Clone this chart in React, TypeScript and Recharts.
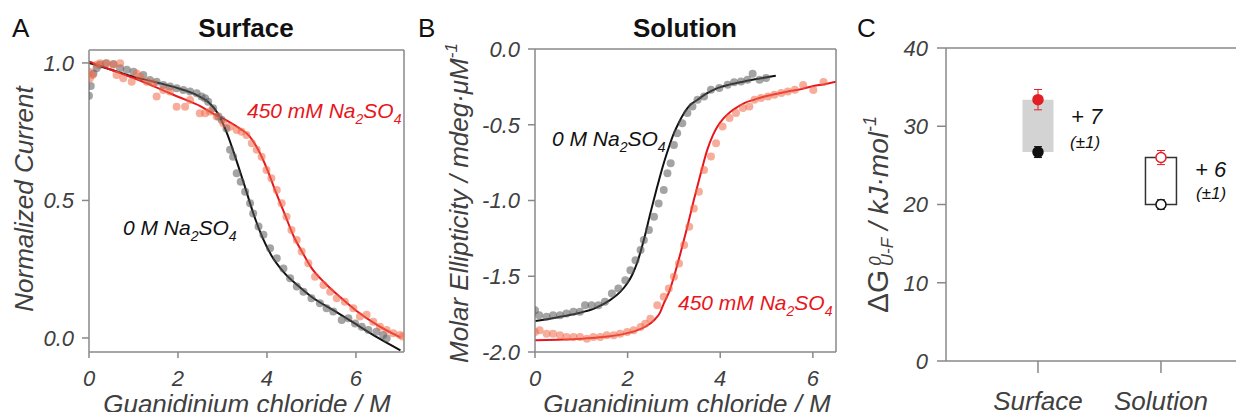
import React from "react";
import {
  ComposedChart,
  Scatter,
  Line,
  XAxis,
  YAxis,
  ErrorBar,
  ReferenceArea,
} from "recharts";

const FONT = "'Liberation Sans', Arial, Helvetica, sans-serif";
const AXIS = "#888";
const TEXT = "#404040";
const RED = "#e8161c";

// ---- panel A: surface (normalized current vs GdmCl) ----
const surfDots0: [number, number][] = [
  [0.0, 0.881], [0.04, 0.916], [0.1, 0.962], [0.17, 0.981], [0.25, 0.993], [0.38, 0.999],
  [0.55, 0.996], [0.7, 0.981], [0.85, 0.975], [1.0, 0.968], [1.22, 0.956], [1.37, 0.938],
  [1.52, 0.932], [1.67, 0.92], [1.82, 0.914], [1.97, 0.908], [2.12, 0.902], [2.27, 0.896],
  [2.42, 0.89], [2.53, 0.878], [2.61, 0.872], [2.68, 0.859], [2.79, 0.835], [2.91, 0.805],
  [2.98, 0.793], [3.09, 0.762], [3.17, 0.684], [3.24, 0.659], [3.32, 0.599], [3.41, 0.568],
  [3.51, 0.532], [3.62, 0.49], [3.69, 0.453], [3.81, 0.405], [3.92, 0.375], [4.07, 0.326],
  [4.22, 0.29], [4.37, 0.253], [4.52, 0.217], [4.67, 0.187], [4.82, 0.168], [5.0, 0.144],
  [5.19, 0.126], [5.34, 0.108], [5.49, 0.096], [5.68, 0.065], [5.83, 0.072], [5.98, 0.053],
  [6.13, 0.041], [6.28, 0.029], [6.46, 0.023], [6.61, 0.011], [6.69, -0.001],
];
const surfDots450: [number, number][] = [
  [0.0, 0.968], [0.02, 0.944], [0.08, 0.956], [0.17, 0.993], [0.25, 0.999], [0.4, 0.999],
  [0.55, 0.993], [0.7, 0.999], [0.62, 0.956], [0.77, 0.944], [0.96, 0.932], [1.07, 0.962],
  [1.15, 0.95], [1.3, 0.932], [1.45, 0.926], [1.52, 0.878], [1.67, 0.902], [1.82, 0.896],
  [1.97, 0.841], [2.16, 0.841], [2.27, 0.865], [2.49, 0.817], [2.61, 0.817], [2.72, 0.823],
  [2.87, 0.805], [3.02, 0.781], [3.17, 0.768], [3.32, 0.756], [3.43, 0.75], [3.54, 0.738],
  [3.66, 0.708], [3.77, 0.684], [3.88, 0.659], [3.99, 0.611], [4.1, 0.581], [4.22, 0.538],
  [4.33, 0.49], [4.44, 0.441], [4.55, 0.393], [4.67, 0.356], [4.78, 0.314], [4.93, 0.272],
  [5.08, 0.223], [5.27, 0.193], [5.42, 0.168], [5.57, 0.144], [5.75, 0.132], [5.94, 0.108],
  [6.09, 0.078], [6.24, 0.084], [6.39, 0.059], [6.54, 0.041], [6.69, 0.029], [6.84, 0.017],
  [6.99, 0.011], [7.05, 0.005],
];
const surfFitX0 = [0, 0.5, 1, 1.5, 2, 2.4, 2.7, 2.9, 3.1, 3.3, 3.5, 3.7, 3.9, 4.1, 4.4, 4.7, 5, 5.5, 6, 6.5, 7.0];
const surfFitY0 = [1.0, 0.975, 0.95, 0.93, 0.908, 0.885, 0.855, 0.815, 0.745, 0.652, 0.552, 0.45, 0.365, 0.3, 0.235, 0.19, 0.15, 0.1, 0.05, 0.0, -0.045];
const surfFitX450 = [0, 0.5, 1, 1.5, 2, 2.5, 2.8, 3.1, 3.4, 3.6, 3.8, 4.0, 4.2, 4.4, 4.6, 4.8, 5.0, 5.3, 5.6, 6, 6.5, 7.0];
const surfFitY450 = [1.005, 0.975, 0.945, 0.912, 0.877, 0.843, 0.815, 0.79, 0.76, 0.735, 0.685, 0.615, 0.53, 0.45, 0.37, 0.31, 0.255, 0.2, 0.155, 0.1, 0.045, 0.002];

// ---- panel B: solution (CD ellipticity vs GdmCl) ----
const solDots0: [number, number][] = [
  [0.0, -1.724], [0.09, -1.757], [0.25, -1.768], [0.39, -1.757], [0.54, -1.757], [0.68, -1.746],
  [0.83, -1.735], [0.97, -1.735], [1.08, -1.691], [1.22, -1.691], [1.37, -1.691], [1.51, -1.669],
  [1.66, -1.614], [1.8, -1.581], [1.95, -1.526], [2.06, -1.46], [2.17, -1.394], [2.28, -1.327],
  [2.35, -1.261], [2.46, -1.195], [2.57, -1.107], [2.67, -1.019], [2.78, -0.931], [2.86, -0.82],
  [2.93, -0.754], [3.0, -0.633], [3.07, -0.556], [3.18, -0.49], [3.29, -0.423], [3.4, -0.379],
  [3.51, -0.335], [3.65, -0.313], [3.8, -0.269], [3.98, -0.258], [4.16, -0.236], [4.3, -0.22],
  [4.45, -0.214], [4.59, -0.203], [4.7, -0.163], [4.85, -0.203], [4.99, -0.192],
];
const solDots450: [number, number][] = [
  [0.0, -1.868], [0.1, -1.857], [0.25, -1.879], [0.39, -1.879], [0.54, -1.89], [0.68, -1.901],
  [0.83, -1.901], [0.97, -1.901], [1.12, -1.912], [1.26, -1.901], [1.41, -1.901], [1.55, -1.89],
  [1.7, -1.89], [1.84, -1.879], [1.99, -1.868], [2.13, -1.857], [2.28, -1.835], [2.38, -1.813],
  [2.49, -1.78], [2.64, -1.691], [2.78, -1.636], [2.89, -1.581], [3.0, -1.504], [3.11, -1.416],
  [3.22, -1.294], [3.33, -1.173], [3.43, -1.052], [3.54, -0.942], [3.65, -0.798], [3.8, -0.71],
  [3.91, -0.622], [4.05, -0.512], [4.2, -0.456], [4.34, -0.423], [4.49, -0.39], [4.63, -0.379],
  [4.74, -0.335], [4.88, -0.324], [5.03, -0.313], [5.17, -0.302], [5.32, -0.291], [5.46, -0.28],
  [5.61, -0.269], [5.79, -0.238], [6.01, -0.27], [6.23, -0.218],
];
const solFitX0 = [0, 0.5, 0.9, 1.3, 1.62, 1.85, 1.99, 2.1, 2.2, 2.35, 2.49, 2.64, 2.78, 2.9, 3.0, 3.1, 3.22, 3.35, 3.51, 3.7, 3.94, 4.2, 4.52, 4.85, 5.2];
const solFitY0 = [-1.795, -1.77, -1.746, -1.71, -1.658, -1.6, -1.548, -1.49, -1.416, -1.261, -1.085, -0.908, -0.754, -0.64, -0.556, -0.49, -0.423, -0.37, -0.335, -0.295, -0.258, -0.235, -0.214, -0.195, -0.176];
const solFitX450 = [0, 0.5, 0.9, 1.3, 1.62, 1.9, 2.2, 2.4, 2.57, 2.7, 2.78, 2.9, 3.0, 3.14, 3.29, 3.43, 3.58, 3.72, 3.84, 3.94, 4.08, 4.23, 4.4, 4.52, 4.75, 4.96, 5.2, 5.46, 5.75, 5.97, 6.25, 6.5];
const solFitY450 = [-1.923, -1.919, -1.914, -1.906, -1.896, -1.882, -1.857, -1.83, -1.79, -1.74, -1.68, -1.6, -1.504, -1.35, -1.173, -0.997, -0.82, -0.666, -0.57, -0.512, -0.455, -0.412, -0.378, -0.357, -0.333, -0.313, -0.297, -0.28, -0.265, -0.247, -0.232, -0.216];

// ---- panel C: unfolding free energy ----
const categories = ["Surface", "Solution"];
const dG450 = [33.4, 26.0];
const err450 = [1.3, 0.9];
const dG0 = [26.7, 20.0];
const err0 = [0.7, 0.6];
const filledMarker = [true, false];
const boxFill = ["#d3d3d3", "#ffffff"];
const boxStroke = ["none", "#333"];

const xTicks = [0, 2, 4, 6];
const surfYTicks = [0, 0.5, 1];
const solYTicks = [-2, -1.5, -1, -0.5, 0];
const dgTicks = [0, 10, 20, 30, 40];

const pts = (arr: [number, number][]) => arr.map(([x, y]) => ({ x, y }));
const fit = (xs: number[], ys: number[]) => xs.map((x, i) => ({ x, y: ys[i] }));

const tickStyle = { fontSize: 22, fontStyle: "italic", fill: TEXT, fontFamily: FONT };
const lineStyle = { stroke: AXIS, strokeWidth: 1.5 };

const dot = (fill: string, op: number) => (p: any) => (
  <circle cx={p.cx} cy={p.cy} r={4} fill={fill} fillOpacity={op} stroke="none" />
);

function CurvePanel(props: {
  left: number;
  top: number;
  right: number;
  yWidth: number;
  xMax: number;
  yDomain: [number, number];
  yTicks: number[];
  dots0: [number, number][];
  dots450: [number, number][];
  fit0: { x: number; y: number }[];
  fit450: { x: number; y: number }[];
}) {
  const { left, top, right, yWidth, xMax, yDomain, yTicks } = props;
  return (
    <div style={{ position: "absolute", left, top: 0 }}>
      <ComposedChart
        width={420}
        height={420}
        margin={{ top: top - 10, right, bottom: 0, left: 0 }}
        style={{ fontFamily: FONT }}
      >
        <XAxis
          xAxisId="b"
          type="number"
          dataKey="x"
          domain={[0, xMax]}
          ticks={xTicks}
          height={68}
          tickSize={6}
          tickMargin={12}
          axisLine={lineStyle}
          tickLine={lineStyle}
          tick={tickStyle}
          allowDataOverflow
        />
        <XAxis
          xAxisId="t"
          type="number"
          orientation="top"
          domain={[0, xMax]}
          ticks={xTicks}
          height={10}
          tickSize={3}
          axisLine={lineStyle}
          tickLine={lineStyle}
          tick={false}
          allowDataOverflow
        />
        <YAxis
          yAxisId="l"
          type="number"
          dataKey="y"
          domain={yDomain}
          ticks={yTicks}
          width={yWidth}
          tickSize={7}
          tickMargin={8}
          axisLine={lineStyle}
          tickLine={lineStyle}
          tick={tickStyle}
          tickFormatter={(v: number) => v.toFixed(1)}
          allowDataOverflow
        />
        <YAxis
          yAxisId="r"
          type="number"
          orientation="right"
          domain={yDomain}
          ticks={yTicks}
          width={10}
          tickSize={4}
          axisLine={lineStyle}
          tickLine={lineStyle}
          tick={false}
          allowDataOverflow
        />
        <Scatter xAxisId="b" yAxisId="l" data={pts(props.dots0)} dataKey="y" shape={dot("#5a5a5a", 0.55)} isAnimationActive={false} />
        <Scatter xAxisId="b" yAxisId="l" data={pts(props.dots450)} dataKey="y" shape={dot("#f06a48", 0.55)} isAnimationActive={false} />
        <Line xAxisId="b" yAxisId="l" data={props.fit0} dataKey="y" type="monotone" stroke="#111" strokeWidth={2} dot={false} isAnimationActive={false} />
        <Line xAxisId="b" yAxisId="l" data={props.fit450} dataKey="y" type="monotone" stroke={RED} strokeWidth={2} dot={false} isAnimationActive={false} />
      </ComposedChart>
    </div>
  );
}

const markerShape = (color: string) => (p: any) => {
  const filled = p.payload?.filled;
  return (
    <circle
      cx={p.cx}
      cy={p.cy}
      r={5}
      fill={filled ? color : "#fff"}
      stroke={color}
      strokeWidth={1.5}
    />
  );
};

function EnergyPanel() {
  const data450 = categories.map((c, i) => ({ x: i + 1, y: dG450[i], err: err450[i], filled: filledMarker[i] }));
  const data0 = categories.map((c, i) => ({ x: i + 1, y: dG0[i], err: err0[i], filled: filledMarker[i] }));
  const halfBox = 0.126;
  return (
    <div style={{ position: "absolute", left: 850, top: 0 }}>
      <ComposedChart width={420} height={420} margin={{ top: 38, right: 20, bottom: 0, left: 0 }} style={{ fontFamily: FONT }}>
        <XAxis
          xAxisId="b"
          type="number"
          dataKey="x"
          domain={[0.252, 2.724]}
          ticks={[1, 2]}
          height={59}
          tickSize={12}
          tickMargin={19}
          axisLine={lineStyle}
          tickLine={lineStyle}
          tick={{ ...tickStyle, fontSize: 26 }}
          tickFormatter={(v: number) => categories[v - 1]}
          allowDataOverflow
        />
        <XAxis
          xAxisId="t"
          type="number"
          orientation="top"
          domain={[0.252, 2.724]}
          ticks={[1, 2]}
          height={10}
          tickSize={3}
          axisLine={lineStyle}
          tickLine={lineStyle}
          tick={false}
          allowDataOverflow
        />
        <YAxis
          yAxisId="l"
          type="number"
          dataKey="y"
          domain={[0, 40]}
          ticks={dgTicks}
          width={96}
          tickSize={9}
          tickMargin={9}
          axisLine={lineStyle}
          tickLine={lineStyle}
          tick={tickStyle}
          allowDataOverflow
        />
        {categories.map((c, i) => (
          <ReferenceArea
            key={c}
            xAxisId="b"
            yAxisId="l"
            x1={i + 1 - halfBox}
            x2={i + 1 + halfBox}
            y1={dG0[i]}
            y2={dG450[i]}
            fill={boxFill[i]}
            fillOpacity={1}
            stroke={boxStroke[i]}
            strokeWidth={1.5}
          />
        ))}
        <Scatter xAxisId="b" yAxisId="l" data={data450} dataKey="y" shape={markerShape("#e31e24")} isAnimationActive={false}>
          <ErrorBar dataKey="err" direction="y" width={4} stroke="#e31e24" strokeWidth={1} isAnimationActive={false} />
        </Scatter>
        <Scatter xAxisId="b" yAxisId="l" data={data0} dataKey="y" shape={markerShape("#111")} isAnimationActive={false}>
          <ErrorBar dataKey="err" direction="y" width={4} stroke="#111" strokeWidth={1} isAnimationActive={false} />
        </Scatter>
      </ComposedChart>
    </div>
  );
}

function Salt({ x, y, pre, color }: { x: number; y: number; pre: string; color: string }) {
  return (
    <text x={x} y={y} fill={color} fontSize={21} fontStyle="italic">
      {pre} Na<tspan fontSize={14} dy={6}>2</tspan>
      <tspan dy={-6}>SO</tspan>
      <tspan fontSize={14} dy={6}>4</tspan>
    </text>
  );
}

function Overlay() {
  return (
    <svg
      width={1244}
      height={420}
      style={{ position: "absolute", left: 0, top: 0, pointerEvents: "none", fontFamily: FONT }}
    >
      <text x={12} y={37} fontSize={26} fill="#111">A</text>
      <text x={418} y={37} fontSize={26} fill="#111">B</text>
      <text x={857} y={37} fontSize={26} fill="#111">C</text>
      <text x={246} y={37} fontSize={26} fontWeight="bold" textAnchor="middle" fill="#111">Surface</text>
      <text x={685} y={37} fontSize={26} fontWeight="bold" textAnchor="middle" fill="#111">Solution</text>

      <text x={247} y={413} fontSize={26} fontStyle="italic" textAnchor="middle" fill={TEXT}>Guanidinium chloride / M</text>
      <text x={687} y={413} fontSize={26} fontStyle="italic" textAnchor="middle" fill={TEXT}>Guanidinium chloride / M</text>

      <text x={33} y={199} fontSize={26} fontStyle="italic" textAnchor="middle" fill={TEXT} transform="rotate(-90 33 199)">
        Normalized Current
      </text>
      <text x={468} y={203} fontSize={26} fontStyle="italic" textAnchor="middle" fill={TEXT} transform="rotate(-90 468 203)">
        Molar Ellipticity / mdeg·μM<tspan fontSize={17} dy={-11}>-1</tspan>
      </text>
      <text x={888} y={313} fill={TEXT} transform="rotate(-90 888 313)">
        <tspan fontSize={30}>ΔG</tspan>
        <tspan fontSize={17} fontStyle="italic" dx={4} dy={-7}>0</tspan>
        <tspan fontSize={17} fontStyle="italic" dx={-10} dy={12}>U-F</tspan>
        <tspan fontSize={28} fontStyle="italic" dy={-5}>{"  / kJ·mol"}</tspan>
        <tspan fontSize={18} fontStyle="italic" dy={-12}>-1</tspan>
      </text>

      <Salt x={247} y={118} pre="450 mM" color={RED} />
      <Salt x={123} y={235} pre="0 M" color="#111" />
      <Salt x={552} y={146} pre="0 M" color="#111" />
      <Salt x={678} y={310} pre="450 mM" color={RED} />

      <text x={1071} y={124} fontSize={22} fontStyle="italic" fill="#111">+ 7</text>
      <text x={1070} y={148} fontSize={17} fontStyle="italic" fill="#111">(±1)</text>
      <text x={1195} y={177} fontSize={22} fontStyle="italic" fill="#111">+ 6</text>
      <text x={1196} y={199} fontSize={17} fontStyle="italic" fill="#111">(±1)</text>
    </svg>
  );
}

export default function App() {
  return (
    <div
      style={{
        position: "relative",
        width: 1244,
        height: 420,
        margin: -8,
        overflow: "hidden",
        background: "#fff",
        fontFamily: FONT,
      }}
    >
      <CurvePanel
        left={0}
        top={50}
        right={6}
        yWidth={89}
        xMax={7.08}
        yDomain={[-0.051, 1.047]}
        yTicks={surfYTicks}
        dots0={surfDots0}
        dots450={surfDots450}
        fit0={fit(surfFitX0, surfFitY0)}
        fit450={fit(surfFitX450, surfFitY450)}
      />
      <CurvePanel
        left={430}
        top={49}
        right={4}
        yWidth={105}
        xMax={6.5}
        yDomain={[-2, 0]}
        yTicks={solYTicks}
        dots0={solDots0}
        dots450={solDots450}
        fit0={fit(solFitX0, solFitY0)}
        fit450={fit(solFitX450, solFitY450)}
      />
      <EnergyPanel />
      <Overlay />
    </div>
  );
}
